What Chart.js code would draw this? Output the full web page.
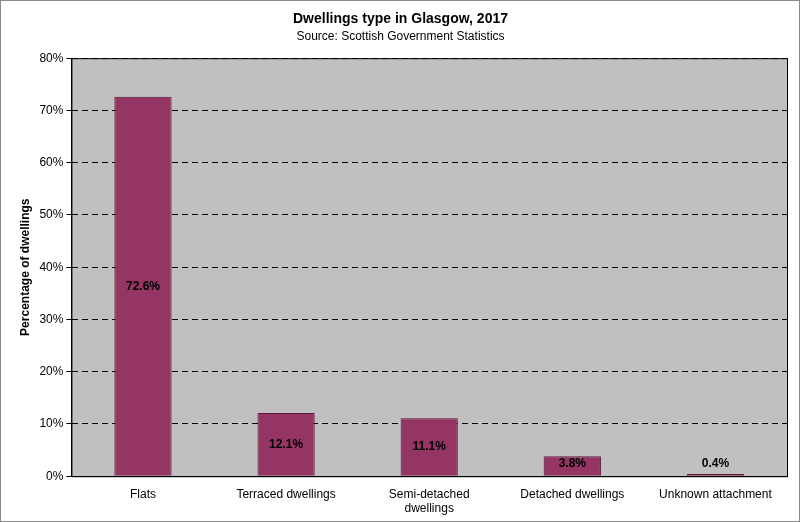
<!DOCTYPE html>
<html><head><script src="https://cdn.jsdelivr.net/npm/chart.js@4"></script>
<style>body{margin:0;background:#fff}#w{position:absolute;left:0;top:0;width:798px;height:520px;border:1px solid #888}</style>
</head><body><div id="w"><canvas id="c" width="798" height="520"></canvas></div>
<script>
const categories=["Flats","Terraced dwellings",["Semi-detached","dwellings"],"Detached dwellings","Unknown attachment"];
const values=[72.6,12.1,11.1,3.8,0.4];
const yTicks=[0,10,20,30,40,50,60,70,80];
const bgPlugin={id:'bg',beforeDraw(ch){const a=ch.chartArea,c=ch.ctx;c.save();c.fillStyle='#c0c0c0';c.fillRect(a.left,a.top,a.right-a.left,a.bottom-a.top);c.restore();},
afterDatasetsDraw(ch){const c=ch.ctx,a=ch.chartArea;c.save();c.strokeStyle='#000';c.lineWidth=1;c.strokeRect(a.left+0.5,a.top+0.5,a.right-a.left,a.bottom-a.top);
c.font='bold 12px Arial';c.fillStyle='#000';c.textAlign='center';c.textBaseline='middle';
ch.getDatasetMeta(0).data.forEach((b,i)=>{let y=(b.y+b.base)/2;y=Math.min(y,b.base-12);c.fillText(values[i].toFixed(1)+'%',b.x,y);});c.restore();}};
new Chart(document.getElementById('c'),{type:'bar',data:{labels:categories,datasets:[{data:values,backgroundColor:'#953563',borderColor:'#5a1a38',borderWidth:1,categoryPercentage:0.8,barPercentage:0.5}]},
options:{responsive:false,animation:false,layout:{padding:{right:12,top:0,bottom:2,left:13}},
plugins:{legend:{display:false},tooltip:{enabled:false},
title:{display:true,text:'Dwellings type in Glasgow, 2017',font:{family:'Arial',size:14,weight:'bold'},color:'#000',padding:{top:10,bottom:2}},
subtitle:{display:true,text:'Source: Scottish Government Statistics',font:{family:'Arial',size:12},color:'#000',padding:{bottom:14}}},
scales:{x:{grid:{display:false},border:{color:'#000'},ticks:{color:'#000',font:{family:'Arial',size:12},maxRotation:0}},
y:{min:0,max:80,afterBuildTicks(s){s.ticks=yTicks.map(v=>({value:v}));},
grid:{color:'#000',tickLength:5,drawTicks:true},border:{display:true,color:'#000',dash:[6,4]},
ticks:{color:'#000',font:{family:'Arial',size:12},callback:v=>v+'%'},
title:{display:true,text:'Percentage of dwellings',font:{family:'Arial',size:12,weight:'bold'},color:'#000'}}}},
plugins:[bgPlugin]});
</script></body></html>
